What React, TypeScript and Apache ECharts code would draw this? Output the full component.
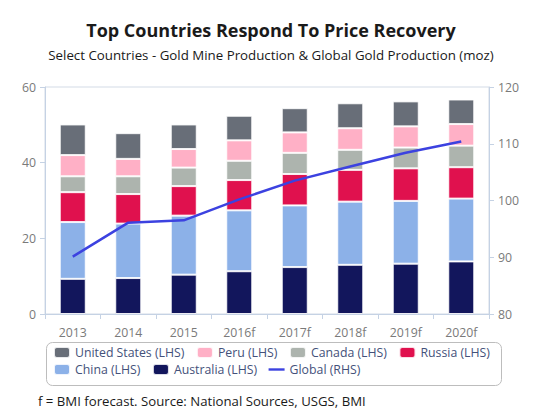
import React, { useEffect, useRef } from "react";
import * as echarts from "echarts";

const categories = ["2013", "2014", "2015", "2016f", "2017f", "2018f", "2019f", "2020f"];
const australia = [9.3, 9.5, 10.4, 11.3, 12.4, 13.0, 13.3, 13.9];
const china = [15.0, 14.4, 15.6, 16.1, 16.3, 16.7, 16.6, 16.6];
const russia = [7.9, 7.8, 7.8, 8.0, 8.3, 8.4, 8.6, 8.3];
const canada = [4.2, 4.7, 4.9, 5.1, 5.6, 5.3, 5.5, 5.7];
const peru = [5.6, 4.6, 4.9, 5.4, 5.4, 5.7, 5.6, 5.7];
const unitedStates = [8.1, 6.8, 6.5, 6.5, 6.4, 6.6, 6.6, 6.5];
const globalProd = [90.1, 96.1, 96.5, 100.2, 103.5, 106.0, 108.4, 110.4];
const leftTicks = { min: 0, max: 60, interval: 20 };
const rightTicks = { min: 80, max: 120, interval: 10 };
const legendRow1 = ["United States (LHS)", "Peru (LHS)", "Canada (LHS)", "Russia (LHS)"];
const legendRow2 = ["China (LHS)", "Australia (LHS)", "Global (RHS)"];

const FONT = "'Open Sans', 'Noto Sans', sans-serif";

export default function App() {
  const ref = useRef<HTMLDivElement>(null);
  useEffect(() => {
    if (!ref.current) return;
    const chart = echarts.init(ref.current, null, { renderer: "svg" });
    const bar = (name: string, data: number[], color: string) => ({
      name,
      type: "bar",
      stack: "total",
      barWidth: 26,
      data,
      itemStyle: { color, borderColor: "rgba(255,255,255,0.85)", borderWidth: 1 },
      yAxisIndex: 0,
    });
    const legendBase = {
      left: 53,
      padding: 0,
      itemWidth: 16,
      itemHeight: 11,
      itemGap: 11.5,
      textStyle: { fontFamily: FONT, fontSize: 12.3, color: "#44517a" },
    };
    const legendItem = (name: string) =>
      name === "Global (RHS)"
        ? { name, icon: "path://M0,0H16V2.4H0Z" }
        : { name, icon: "roundRect" };
    const axisColor = "#c5d2e4";
    const yAxisCommon = {
      type: "value",
      splitLine: { show: false },
      axisLine: { show: true, lineStyle: { color: axisColor } },
      axisTick: { show: true, length: 5, lineStyle: { color: axisColor } },
      axisLabel: { color: "#7a7a7a", fontSize: 12.3, margin: 9, fontFamily: FONT },
    };
    chart.setOption({
      animation: false,
      textStyle: { fontFamily: FONT },
      grid: {
        left: 45,
        right: 53,
        top: 87,
        bottom: 106,
        show: true,
        borderColor: "#d3dbe6",
        borderWidth: 1,
      },
      legend: [
        { ...legendBase, top: 346, data: legendRow1.map(legendItem) },
        { ...legendBase, top: 363, data: legendRow2.map(legendItem) },
      ],
      xAxis: {
        type: "category",
        data: categories,
        axisLine: { lineStyle: { color: axisColor } },
        axisTick: { show: true, length: 5, lineStyle: { color: axisColor } },
        axisLabel: { color: "#7a7a7a", fontSize: 12.3, margin: 12, fontFamily: FONT },
      },
      yAxis: [
        { ...yAxisCommon, ...leftTicks, position: "left" },
        { ...yAxisCommon, ...rightTicks, position: "right" },
      ],
      series: [
        bar("Australia (LHS)", australia, "#12165c"),
        bar("China (LHS)", china, "#8cb1e8"),
        bar("Russia (LHS)", russia, "#e0114e"),
        bar("Canada (LHS)", canada, "#adb4ae"),
        bar("Peru (LHS)", peru, "#ffb0c6"),
        bar("United States (LHS)", unitedStates, "#686e78"),
        {
          name: "Global (RHS)",
          type: "line",
          yAxisIndex: 1,
          data: globalProd,
          symbol: "none",
          lineStyle: { color: "#3c42e0", width: 2.5 },
          itemStyle: { color: "#3c42e0" },
        },
      ],
      graphic: [
        {
          type: "rect",
          left: 44,
          top: 340,
          shape: { width: 455, height: 43, r: 6 },
          style: { fill: "none", stroke: "#bdbdbd", lineWidth: 1 },
          z: -1,
        },
        {
          type: "text",
          left: "center",
          top: 21,
          style: {
            text: "Top Countries Respond To Price Recovery",
            font: `bold 18px ${FONT}`,
            fill: "#1a1a1a",
          },
        },
        {
          type: "text",
          left: "center",
          top: 48,
          style: {
            text: "Select Countries - Gold Mine Production & Global Gold Production (moz)",
            font: `13.3px ${FONT}`,
            fill: "#1a1a1a",
          },
        },
        {
          type: "text",
          left: 38,
          top: 394,
          style: {
            text: "f = BMI forecast. Source: National Sources, USGS, BMI",
            font: `13.2px ${FONT}`,
            fill: "#1a1a1a",
          },
        },
      ],
    });
    return () => chart.dispose();
  }, []);
  return <div ref={ref} style={{ width: 542, height: 420, margin: -8 }} />;
}
